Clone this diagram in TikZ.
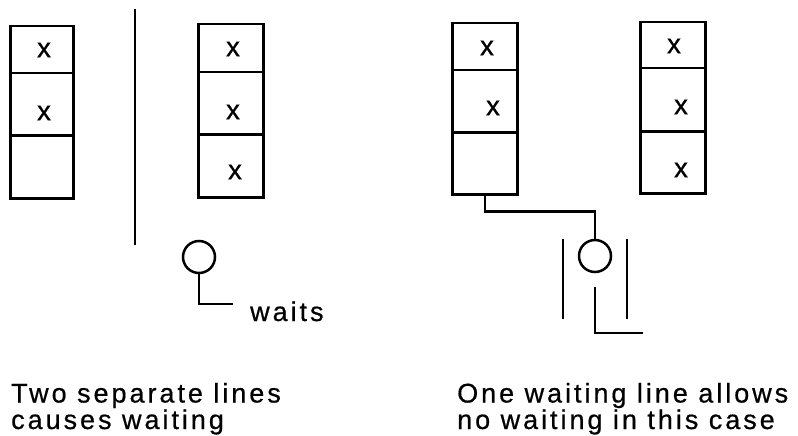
\documentclass[tikz,border=0pt]{standalone}
\usepackage{fontspec}
\setmainfont{Liberation Sans}
\newfontfamily\capfont[LetterSpace=11,FakeBold=0.6]{Liberation Sans}
\newfontfamily\xfont[FakeBold=0.6]{Liberation Sans}
\begin{document}
\begin{tikzpicture}[x=1pt,y=-1pt,
  ln/.style={line width=2.5pt},
  cell/.style={draw,line width=2.5pt,inner sep=0pt,anchor=north west},
  xmark/.style={inner sep=0pt,font=\xfont\fontsize{28}{32}\selectfont},
  circ/.style={draw,circle,line width=2.5pt,minimum size=32pt,inner sep=0pt},
  captext/.style={inner sep=0pt,anchor=base west,font=\capfont\fontsize{27}{31}\selectfont}]
\useasboundingbox (0,0) rectangle (798,436);
% stack 1
\node[cell,minimum width=63pt,minimum height=47pt] (s1a) at (9,25) {};
\node[cell,minimum width=63pt,minimum height=62pt] (s1b) at (9,72) {};
\node[cell,minimum width=63pt,minimum height=63pt] (s1c) at (9,134) {};
\node[xmark] (x1a) at (44,50) {x};
\node[xmark] (x1b) at (44,113) {x};
% separator
\coordinate (sepT) at (135,9);
\coordinate (sepB) at (135,245);
\draw[ln] (sepT) -- (sepB);
% stack 2
\node[cell,minimum width=65pt,minimum height=48pt] (s2a) at (197,23) {};
\node[cell,minimum width=65pt,minimum height=62pt] (s2b) at (197,71) {};
\node[cell,minimum width=65pt,minimum height=63pt] (s2c) at (197,133) {};
\node[xmark] (x2a) at (233,49) {x};
\node[xmark] (x2b) at (233,112) {x};
\node[xmark] (x2c) at (235,172) {x};
% waiting customer (left)
\node[circ] (c1) at (199,257) {};
\coordinate (h1e) at (233,304);
\draw[ln] (c1.south) |- (h1e);
\node[captext] (waits) at (250,321) {waits};
% stack 3
\node[cell,minimum width=65pt,minimum height=47pt] (s3a) at (451,22) {};
\node[cell,minimum width=65pt,minimum height=62pt] (s3b) at (451,69) {};
\node[cell,minimum width=65pt,minimum height=62pt] (s3c) at (451,131) {};
\node[xmark] (x3a) at (487,48) {x};
\node[xmark] (x3b) at (493,108) {x};
% stack 4
\node[cell,minimum width=65pt,minimum height=46pt] (s4a) at (639,21) {};
\node[cell,minimum width=65pt,minimum height=63pt] (s4b) at (639,67) {};
\node[cell,minimum width=65pt,minimum height=62pt] (s4c) at (639,130) {};
\node[xmark] (x4a) at (674,46) {x};
\node[xmark] (x4b) at (681,107) {x};
\node[xmark] (x4c) at (681,170) {x};
% single waiting line (right)
\node[circ] (c2) at (595,256) {};
\draw[ln] (s3c.south) -- ++(0,16) -| (c2.north);
\coordinate (b1t) at (563,239);
\coordinate (b1b) at (563,319);
\coordinate (b2t) at (627,239);
\coordinate (b2b) at (627,319);
\draw[ln] (b1t) -- (b1b);
\draw[ln] (b2t) -- (b2b);
\coordinate (h2t) at (595,287);
\coordinate (h2e) at (643,333);
\draw[ln] (h2t) |- (h2e);
% captions
\node[captext] (l1) at (11,402.5) {Two separate lines};
\node[captext] (l2) at (11,429) {causes waiting};
\node[captext] (r1) at (457,402.5) {One waiting line allows};
\node[captext] (r2) at (457,429) {no waiting in this case};
\end{tikzpicture}
\end{document}
